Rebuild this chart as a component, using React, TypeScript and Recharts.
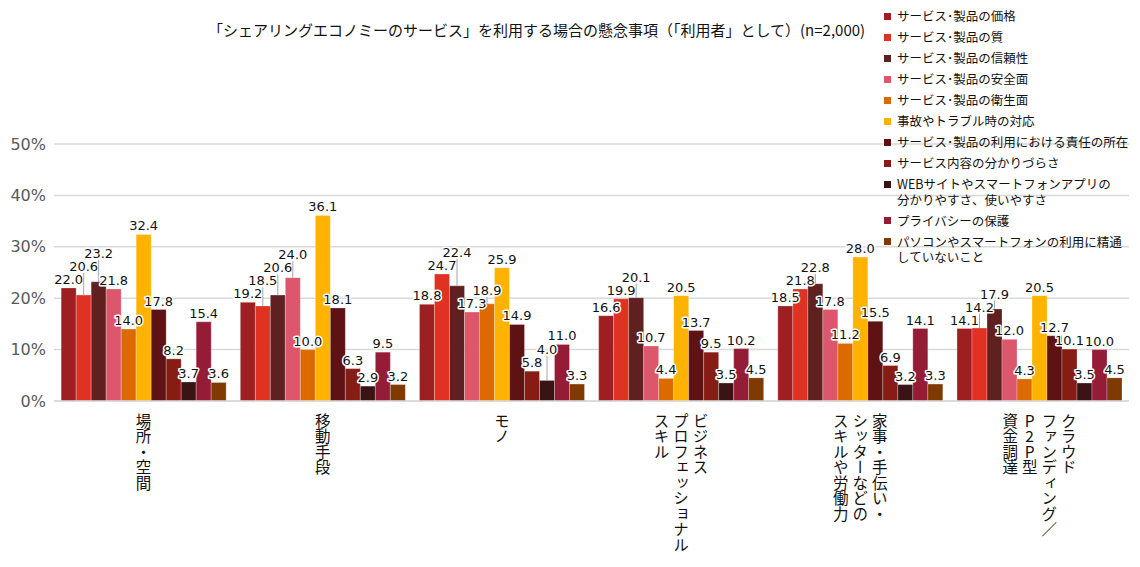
import React from 'react';
import { BarChart, Bar, XAxis, YAxis, CartesianGrid, LabelList } from 'recharts';

const categories = [
  '場所・空間',
  '移動手段',
  'モノ',
  'ビジネス\nプロフェッショナル\nスキル',
  '家事・手伝い・\nシッターなどの\nスキルや労働力',
  'クラウド\nファンディング／\nP2P型\n資金調達',
];

const seriesNames = [
  'サービス･製品の価格',
  'サービス･製品の質',
  'サービス･製品の信頼性',
  'サービス･製品の安全面',
  'サービス･製品の衛生面',
  '事故やトラブル時の対応',
  'サービス･製品の利用における責任の所在',
  'サービス内容の分かりづらさ',
  'WEBサイトやスマートフォンアプリの\n分かりやすさ、使いやすさ',
  'プライバシーの保護',
  'パソコンやスマートフォンの利用に精通\nしていないこと',
];

const seriesColors = [
  '#9E1F22', '#E03222', '#5F2020', '#DC566C', '#DD6A00', '#FFB300',
  '#5E1214', '#861C14', '#3A1414', '#951C36', '#7E3A00',
];

const price = [22.0, 19.2, 18.8, 16.6, 18.5, 14.1];
const quality = [20.6, 18.5, 24.7, 19.9, 21.8, 14.2];
const reliability = [23.2, 20.6, 22.4, 20.1, 22.8, 17.9];
const safety = [21.8, 24.0, 17.3, 10.7, 17.8, 12.0];
const hygiene = [14.0, 10.0, 18.9, 4.4, 11.2, 4.3];
const trouble = [32.4, 36.1, 25.9, 20.5, 28.0, 20.5];
const responsibility = [17.8, 18.1, 14.9, 13.7, 15.5, 12.7];
const clarity = [8.2, 6.3, 5.8, 9.5, 6.9, 10.1];
const usability = [3.7, 2.9, 4.0, 3.5, 3.2, 3.5];
const privacy = [15.4, 9.5, 11.0, 10.2, 14.1, 10.0];
const literacy = [3.6, 3.2, 3.3, 4.5, 3.3, 4.5];

const seriesValues = [
  price, quality, reliability, safety, hygiene, trouble,
  responsibility, clarity, usability, privacy, literacy,
];

const yTicks = [0, 10, 20, 30, 40, 50];

const title = '「シェアリングエコノミーのサービス」を利用する場合の懸念事項（「利用者」として）(n=2,000)';

const data = categories.map((name, i) => {
  const row: Record<string, any> = { name };
  seriesValues.forEach((vals, k) => { row['s' + k] = vals[i]; });
  return row;
});

const NUM_FONT = "'DejaVu Sans', Verdana, sans-serif";
const JP_FONT = "'Noto Sans CJK JP', 'Noto Sans', sans-serif";

const CategoryTick = ({ x, y, payload }: any) => {
  const cols = String(payload.value).split('\n');
  const n = cols.length;
  return (
    <g>
      {cols.map((c, i) => (
        <text
          key={i}
          x={x + ((n - 1) / 2 - i) * 19.5}
          y={y + 4}
          fontSize={15.5}
          fontFamily={JP_FONT}
          fill="#111"
          textAnchor="start"
          style={{ writingMode: 'vertical-rl', textOrientation: 'upright' } as any}
        >
          {c}
        </text>
      ))}
    </g>
  );
};

// draws every label of one category, placed so they do not overlap
const LABEL_W = 28;
const LABEL_H = 13;
const GroupLabels = (props: any) => {
  const { x, y, width, height, value, index } = props;
  const last = seriesValues.length - 1;
  const ppu = height / value;
  const base = y + height;
  const placed: { cx: number; top: number; baseline: number; v: number }[] = [];
  for (let j = 0; j <= last; j++) {
    const v = seriesValues[j][index];
    const cx = x + width / 2 + (j - last) * width;
    const top = base - v * ppu;
    let baseline = top - 4;
    let moved = true;
    while (moved) {
      moved = false;
      for (const p of placed) {
        if (Math.abs(p.cx - cx) < LABEL_W && Math.abs(p.baseline - baseline) < LABEL_H) {
          baseline = p.baseline - LABEL_H;
          moved = true;
        }
      }
    }
    placed.push({ cx, top, baseline, v });
  }
  return (
    <g>
      {placed.map((p, k) => (
        <g key={k}>
          {p.top - p.baseline > 8 && (
            <line x1={p.cx} y1={p.top} x2={p.cx} y2={p.baseline + 2} stroke="#a6a6a6" strokeWidth={1} />
          )}
          <text
            x={p.cx}
            y={p.baseline}
            textAnchor="middle"
            fontSize={13}
            fontFamily={NUM_FONT}
            fill="#111"
            stroke="#fff"
            strokeWidth={3}
            strokeLinejoin="round"
            paintOrder="stroke"
          >
            {p.v.toFixed(1)}
          </text>
        </g>
      ))}
    </g>
  );
};

export default function App() {
  return (
    <div style={{ position: 'absolute', left: 0, top: 0, width: 1140, height: 567, background: '#fff' }}>
      <BarChart
        width={1140}
        height={567}
        data={data}
        margin={{ top: 144, right: 11, left: 6, bottom: 0 }}
        barCategoryGap="4%"
        barGap={0}
      >
        <CartesianGrid vertical={false} stroke="#d9d9d9" strokeWidth={1.5} />
        <XAxis
          dataKey="name"
          height={166}
          interval={0}
          tickLine={false}
          axisLine={{ stroke: '#d9d9d9', strokeWidth: 1.5 }}
          tick={<CategoryTick />}
        />
        <YAxis
          width={48}
          domain={[0, 50]}
          ticks={yTicks}
          tickFormatter={(v: number) => v + '%'}
          axisLine={false}
          tickLine={false}
          tick={{ fill: '#595959', fontSize: 16, fontFamily: NUM_FONT }}
        />
        {seriesValues.map((_, k) => (
          <Bar
            key={k}
            dataKey={'s' + k}
            fill={seriesColors[k]}
            stroke="#ffffff"
            strokeOpacity={0.35}
            strokeWidth={0.75}
            isAnimationActive={false}
          >
            {k === seriesValues.length - 1 && <LabelList dataKey={'s' + k} content={<GroupLabels />} />}
          </Bar>
        ))}
      </BarChart>
      <div
        style={{
          position: 'absolute', left: 208, top: 19, whiteSpace: 'nowrap',
          fontFamily: JP_FONT, fontSize: 15, color: '#111',
        }}
      >
        {title}
      </div>
      <div style={{ position: 'absolute', left: 884, top: 8, fontFamily: JP_FONT, fontSize: 12.5, color: '#111' }}>
        {seriesNames.map((n, k) => (
          <div key={k} style={{ display: 'flex', alignItems: 'flex-start', marginBottom: 5.5 }}>
            <span style={{ width: 7, height: 7, background: seriesColors[k], marginTop: 4.5, marginRight: 6, flexShrink: 0 }} />
            <span style={{ lineHeight: '15.5px', whiteSpace: 'pre' }}>{n}</span>
          </div>
        ))}
      </div>
    </div>
  );
}
